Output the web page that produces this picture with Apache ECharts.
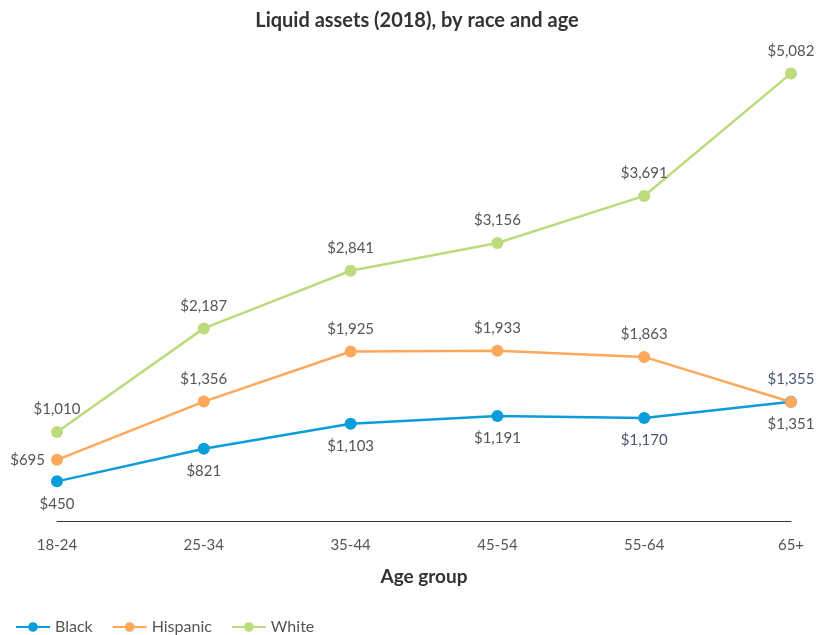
<!DOCTYPE html>
<html>
<head>
<meta charset="utf-8">
<script src="https://cdn.jsdelivr.net/npm/echarts@6/dist/echarts.min.js"></script>
<style>
  html, body { margin: 0; padding: 0; background: #fff; }
  #chart { width: 834px; height: 635px; }
</style>
</head>
<body>
<div id="chart"></div>
<script>
  // data
  var ageGroups = ['18-24', '25-34', '35-44', '45-54', '55-64', '65+'];
  var black = [450, 821, 1103, 1191, 1170, 1355];
  var hispanic = [695, 1356, 1925, 1933, 1863, 1351];
  var white = [1010, 2187, 2841, 3156, 3691, 5082];

  var FONT = 'Lato';
  var fmt = function (p) { return '$' + p.value.toLocaleString('en-US'); };

  var chart = echarts.init(document.getElementById('chart'));

  function lbl(pos, color) {
    return { show: true, position: pos, color: color || '#555', fontSize: 15, fontFamily: FONT, distance: 9, formatter: fmt };
  }

  // Black labels sit under the points except the last one
  var blackData = black.map(function (v, i) {
    var d = { value: v, label: lbl('bottom', i >= 4 ? '#4a5672' : '#555') };
    if (i === 5) d.label = lbl('top', '#4a5672');
    return d;
  });
  var hispData = hispanic.map(function (v, i) {
    var pos = i === 0 ? 'left' : (i === 5 ? 'bottom' : 'top');
    var l = lbl(pos);
    if (i === 0) l.distance = 6;
    return { value: v, label: l };
  });

  chart.setOption({
    animation: false,
    title: {
      text: 'Liquid assets (2018), by race and age',
      left: 'center',
      top: 6,
      textStyle: { fontFamily: FONT, fontSize: 20, fontWeight: 'bold', color: '#333' }
    },
    legend: {
      left: 10,
      top: 614,
      itemWidth: 34,
      itemHeight: 12,
      itemGap: 19,
      textStyle: { fontFamily: FONT, fontSize: 16, color: '#555' },
      data: ['Black', 'Hispanic', 'White']
    },
    grid: { left: 57, right: 43, top: 36.6, bottom: 114 },
    xAxis: {
      type: 'category',
      data: ageGroups,
      boundaryGap: false,
      name: 'Age group',
      nameLocation: 'middle',
      nameGap: 46,
      nameTextStyle: { fontFamily: FONT, fontSize: 19, fontWeight: 'bold', color: '#333' },
      axisLine: { lineStyle: { color: '#333', width: 1 } },
      axisTick: { show: false },
      axisLabel: { fontFamily: FONT, fontSize: 15, color: '#555', margin: 17 }
    },
    yAxis: {
      type: 'value',
      min: 0,
      max: 5500,
      show: false,
      splitLine: { show: false }
    },
    series: [
      {
        name: 'Black', type: 'line', data: blackData,
        symbol: 'circle', symbolSize: 12,
        lineStyle: { width: 2.5, color: '#0a9dd9' },
        itemStyle: { color: '#0a9dd9' }
      },
      {
        name: 'Hispanic', type: 'line', data: hispData,
        symbol: 'circle', symbolSize: 12,
        lineStyle: { width: 2.5, color: '#fda85b' },
        itemStyle: { color: '#fda85b' }
      },
      {
        name: 'White', type: 'line', data: white,
        symbol: 'circle', symbolSize: 12,
        lineStyle: { width: 2.5, color: '#bcdb7c' },
        itemStyle: { color: '#bcdb7c' },
        label: lbl('top')
      }
    ]
  });
</script>
</body>
</html>
